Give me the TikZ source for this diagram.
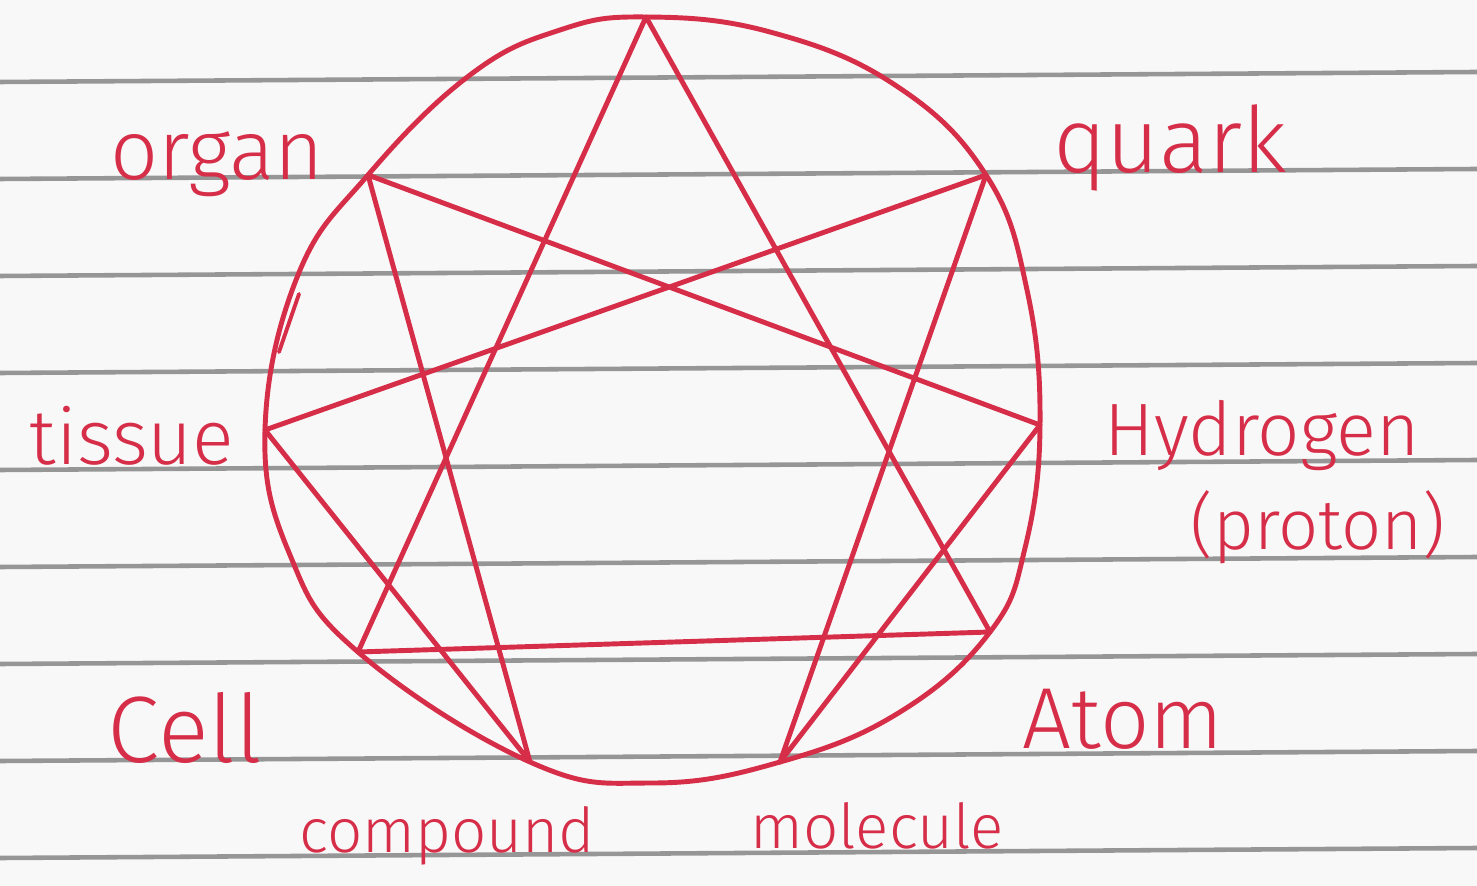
\documentclass[tikz,border=0pt]{standalone}
\usepackage{fontspec}
\newfontfamily\handfont{Fira Sans Light}
\definecolor{inkred}{RGB}{214, 46, 72}
\definecolor{ruleline}{RGB}{150, 150, 150}
\definecolor{paper}{RGB}{248, 248, 248}
\usetikzlibrary{calc}
\tikzset{
  inkline/.style={draw=inkred, line width=1.4pt, line cap=round, line join=round},
  ruled/.style={draw=ruleline, line width=1.3pt},
  lbl/.style={text=inkred, inner sep=0pt, anchor=base, font=\handfont\fontsize{22}{26}\selectfont},
}

\begin{document}
\begin{tikzpicture}[x=0.01cm, y=-0.01cm]
  \fill[paper] (0,0) rectangle (1477,886);
  \useasboundingbox (0,0) rectangle (1477,886);
  \foreach \k in {0,...,8}
    \draw[ruled] (0,{82+97*\k}) -- (1477,{72+97*\k});

  \coordinate (top) at (646,17);
  \coordinate (quark) at (986,175);
  \coordinate (hydro) at (1040,425);
  \coordinate (atom) at (990,632);
  \coordinate (molec) at (780,762);
  \coordinate (comp) at (530,762);
  \coordinate (cell) at (358,652);
  \coordinate (tissue) at (265,430);
  \coordinate (organ) at (368,175);

  \draw[inkline] plot[smooth cycle, tension=0.7] coordinates {
    (top) (770,32) (895,85) (quark) (1027,290) (hydro) (1025,548) (atom)
    (900,712) (molec) (652,783) (comp) (cell) (290,555) (tissue)
    (298,275) (organ) (470,75) (560,30)};
  \draw[inkline, line width=1.1pt] (279,352) -- (299,294);

  \draw[inkline] (top) -- (atom) -- (cell) -- cycle;
  \draw[inkline] (quark) -- (molec) -- (hydro) -- (organ) -- (comp) -- (tissue) -- cycle;

  \node[lbl, scale=1.09] (organlbl) at (217,180) {organ};
  \node[lbl, scale=1.18] (quarklbl) at (1170,173) {quark};
  \node[lbl] (tissuelbl) at (132,465) {tissue};
  \node[lbl, scale=0.96] (hydrolbl) at (1262,456) {Hydrogen};
  \node[lbl, scale=0.91] (protonlbl) at (1318,550) {(proton)};
  \node[lbl, scale=1.22] (celllbl) at (185,762) {Cell};
  \node[lbl, scale=1.12] (atomlbl) at (1123,748) {Atom};
  \node[lbl, scale=0.8] (complbl) at (447,852) {compound};
  \node[lbl, scale=0.8] (moleclbl) at (877,848) {molecule};
\end{tikzpicture}
\end{document}
